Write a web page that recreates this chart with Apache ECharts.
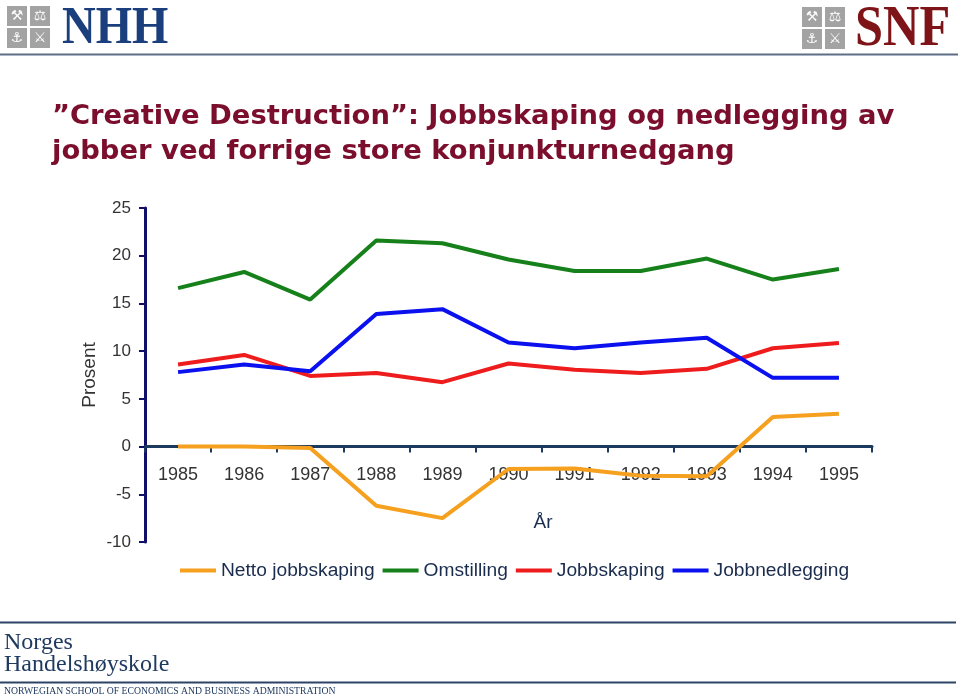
<!DOCTYPE html>
<html>
<head>
<meta charset="utf-8">
<script src="https://cdn.jsdelivr.net/npm/echarts@6/dist/echarts.min.js"></script>
<style>
html,body{margin:0;padding:0;background:#fff;}
#chart{width:960px;height:700px;}
</style>
</head>
<body>
<div id="chart"></div>
<script>
const years = ['1985','1986','1987','1988','1989','1990','1991','1992','1993','1994','1995'];
const nettoJobbskaping = [0, 0, -0.15, -6.2, -7.5, -2.35, -2.3, -3.05, -3.1, 3.1, 3.45];
const omstilling = [16.6, 18.3, 15.4, 21.6, 21.3, 19.6, 18.4, 18.4, 19.7, 17.5, 18.6];
const jobbskaping = [8.6, 9.6, 7.4, 7.7, 6.75, 8.7, 8.05, 7.7, 8.15, 10.3, 10.85];
const jobbnedlegging = [7.8, 8.6, 7.9, 13.9, 14.4, 10.9, 10.3, 10.9, 11.4, 7.2, 7.2];
const seriesNames = ['Netto jobbskaping', 'Omstilling', 'Jobbskaping', 'Jobbnedlegging'];
const seriesColors = ['#f5a01e', '#16801a', '#ee1c1c', '#0a10ee'];
const yMin = -10, yMax = 25, yStep = 5;

const FONT = 'Liberation Sans, Arial, sans-serif';
const SERIF = 'Liberation Serif, Times New Roman, serif';
const chart = echarts.init(document.getElementById('chart'), null, {renderer: 'canvas'});

const gridTop = 208, gridBottom = 158, chartH = 700;
const plotH = chartH - gridTop - gridBottom;
// raise the category axis so it sits on the zero line of the value axis
const zeroOffset = -plotH * (0 - yMin) / (yMax - yMin);

function iconSquares(x0, y0) {
  const glyphs = ['\u2692', '\u2696', '\u2693', '\u2694'];
  const els = [];
  const pos = [[0,0],[23,0],[0,22],[23,22]];
  pos.forEach((p, i) => {
    els.push({type: 'rect', shape: {x: x0 + p[0], y: y0 + p[1], width: 20, height: 20}, style: {fill: '#a3a3a3'}});
    els.push({type: 'text', x: x0 + p[0] + 10, y: y0 + p[1] + 10, style: {text: glyphs[i], fill: '#ffffff', font: '14px DejaVu Sans', align: 'center', verticalAlign: 'middle'}});
  });
  return els;
}

const allData = [nettoJobbskaping, omstilling, jobbskaping, jobbnedlegging];

const option = {
  backgroundColor: '#ffffff',
  animation: false,
  grid: {left: 145, right: 88, top: gridTop, bottom: gridBottom},
  legend: {
    data: seriesNames,
    left: 180, top: 561, padding: 0,
    icon: 'rect', itemWidth: 36, itemHeight: 4, itemGap: 8,
    textStyle: {fontFamily: FONT, fontSize: 19.2, color: '#1a2c4e'}
  },
  xAxis: {
    type: 'category',
    data: years,
    boundaryGap: true,
    offset: zeroOffset,
    axisLine: {onZero: false, lineStyle: {color: '#1b3a5e', width: 3}},
    axisTick: {show: true, length: 6, lineStyle: {color: '#1b3a5e', width: 2}},
    axisLabel: {fontFamily: FONT, fontSize: 18, color: '#333333', margin: 19},
    name: 'År', nameLocation: 'middle', nameGap: 67, nameMoveOverlap: false,
    nameTextStyle: {fontFamily: FONT, fontSize: 19, color: '#1a2c4e', padding: [0,0,0,69]}
  },
  yAxis: {
    type: 'value', min: yMin, max: yMax, interval: yStep,
    axisLine: {show: true, lineStyle: {color: '#10106a', width: 3}},
    axisTick: {show: true, length: 6, lineStyle: {color: '#10106a', width: 2}},
    axisLabel: {fontFamily: FONT, fontSize: 17, color: '#333333', margin: 14},
    splitLine: {show: false},
    name: 'Prosent', nameLocation: 'middle', nameGap: 46, nameRotate: 90, nameMoveOverlap: false,
    nameTextStyle: {fontFamily: FONT, fontSize: 19, color: '#333333'}
  },
  series: seriesNames.map((n, i) => ({
    name: n, type: 'line', data: allData[i],
    symbol: 'none', showSymbol: false,
    lineStyle: {width: 4, color: seriesColors[i]},
    itemStyle: {color: seriesColors[i]}
  })),
  graphic: [
    ...iconSquares(7, 6),
    {type: 'text', x: 62, y: 29, scaleX: 0.88, style: {text: 'NHH', fill: '#1a3f7c', font: 'bold 53px ' + SERIF, verticalAlign: 'middle'}},
    ...iconSquares(802, 7),
    {type: 'text', x: 855, y: 31, scaleX: 0.9, style: {text: 'SNF', fill: '#7e1418', font: 'bold 56px ' + SERIF, verticalAlign: 'middle'}},
    {type: 'rect', shape: {x: 0, y: 53.5, width: 958, height: 2}, style: {fill: '#5d6f85'}},
    {type: 'text', x: 52, y: 117, style: {text: '\u201DCreative Destruction\u201D: Jobbskaping og nedlegging av', fill: '#7b0e2c', font: 'bold 27.4px DejaVu Sans', verticalAlign: 'middle'}},
    {type: 'text', x: 52, y: 152, style: {text: 'jobber ved forrige store konjunkturnedgang', fill: '#7b0e2c', font: 'bold 27.4px DejaVu Sans', verticalAlign: 'middle'}},
    {type: 'rect', shape: {x: 0, y: 621.5, width: 956, height: 2}, style: {fill: '#2c4566'}},
    {type: 'text', x: 4, y: 643, style: {text: 'Norges', fill: '#1f3a60', font: '24px ' + SERIF, verticalAlign: 'middle'}},
    {type: 'text', x: 4, y: 665, style: {text: 'Handelshøyskole', fill: '#1f3a60', font: '24px ' + SERIF, verticalAlign: 'middle'}},
    {type: 'rect', shape: {x: 0, y: 681.5, width: 956, height: 2}, style: {fill: '#2c4566'}},
    {type: 'text', x: 4, y: 691.5, style: {text: 'NORWEGIAN SCHOOL OF ECONOMICS AND BUSINESS ADMINISTRATION', fill: '#1f3a60', font: '9.7px ' + SERIF, verticalAlign: 'middle'}}
  ]
};
chart.setOption(option);
</script>
</body>
</html>
